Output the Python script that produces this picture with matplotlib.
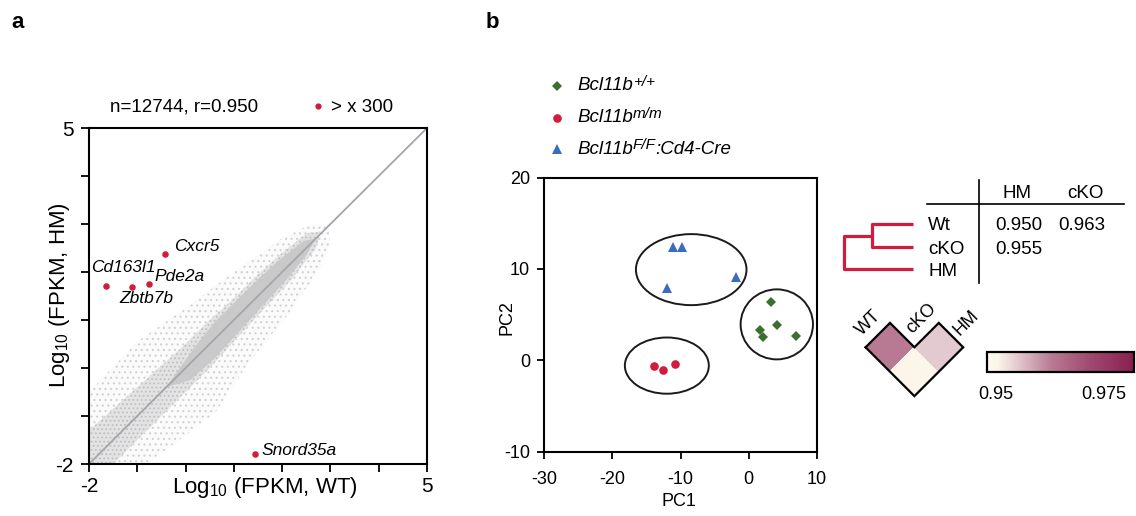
import numpy as np
import matplotlib
matplotlib.use("Agg")
import matplotlib.pyplot as plt
from matplotlib.patches import Ellipse
from matplotlib.transforms import Affine2D
from matplotlib.colors import LinearSegmentedColormap, Normalize
from matplotlib.cm import ScalarMappable

plt.rcParams['font.family'] = ['Liberation Sans', 'DejaVu Sans']
plt.rcParams['mathtext.fontset'] = 'custom'
plt.rcParams['mathtext.rm'] = 'Liberation Sans'
plt.rcParams['mathtext.it'] = 'Liberation Sans:italic'
plt.rcParams['mathtext.bf'] = 'Liberation Sans:bold'
plt.rcParams['axes.unicode_minus'] = False
plt.rcParams['hatch.linewidth'] = 0.8

# ---------------- panel a : scatter cloud (envelopes) ----
# outer, sparse envelope
cloud_outer_x = [-2, -1, 0, 1, 2, 2.6, 2.95, 3.0, 2.8, 2.15, 1.3, 0.6, -0.8, -2]
cloud_outer_y = [-0.5, 0.55, 1.25, 2.0, 2.7, 3.0, 3.0, 2.6, 2.1, 1.15, 0.1, -0.95, -2.0, -2]
# medium density band
cloud_mid_x = [-2, -1, 0, 0.5, 1, 1.5, 2, 2.5, 2.8, 2.7, 2.2, 1.5, 1, 0.5, 0, -1, -1.5, -2]
cloud_mid_y = [-1.3, -0.4, 0.5, 1.0, 1.45, 1.95, 2.4, 2.8, 2.85, 2.5, 1.85, 1.1, 0.55, 0.0, -0.5,
               -1.5, -2.0, -2]
# dense core
cloud_core_x = [-0.4, 0.2, 0.6, 1, 1.5, 2, 2.45, 2.7, 2.5, 2.1, 1.6, 1.1, 0.6, 0.1]
cloud_core_y = [-0.4, 0.45, 0.95, 1.35, 1.85, 2.3, 2.65, 2.7, 2.35, 1.85, 1.3, 0.75, 0.2, -0.25]

# genes with > x 300 difference
genes = ['Cxcr5', 'Cd163l1', 'Pde2a', 'Zbtb7b', 'Snord35a']
gene_wt = [-0.43, -1.65, -0.76, -1.10, 1.44]
gene_hm = [2.37, 1.71, 1.75, 1.69, -1.80]
gene_label_pos = [(-0.24, 2.54), (-1.96, 2.10), (-0.65, 1.90), (-1.38, 1.44), (1.58, -1.71)]

# ---------------- panel b : PCA ----------------
wt_pc1 = [3.23, 4.20, 1.63, 2.10, 6.90]
wt_pc2 = [6.34, 3.81, 3.30, 2.50, 2.67]
mm_pc1 = [-13.9, -12.5, -10.8]
mm_pc2 = [-0.58, -1.10, -0.44]
ko_pc1 = [-11.16, -9.84, -12.04, -1.93]
ko_pc2 = [12.38, 12.38, 7.95, 9.15]
# ellipses: centre x, centre y, width, height
ell_wt = (4.11, 3.93, 10.6, 7.66)
ell_mm = (-12.0, -0.58, 12.3, 6.15)
ell_ko = (-8.43, 9.92, 16.2, 7.77)

# correlation table / heatmap
samples = ['Wt', 'cKO', 'HM']
r_wt_hm = 0.950
r_wt_cko = 0.963
r_cko_hm = 0.955
cb_min, cb_max = 0.948, 0.982

red = '#d11d3b'
green = '#3b6f2e'
blue = '#3a6cc0'

W, H = 1136, 516
fig = plt.figure(figsize=(W / 100, H / 100), dpi=100)


def px_axes(l, t, r, b):
    return fig.add_axes([l / W, 1 - b / H, (r - l) / W, (b - t) / H])


# ---------------- panel a ----------------
ax1 = px_axes(89, 128, 427, 464)
ax1.set_xlim(-2, 5)
ax1.set_ylim(-2, 5)
ax1.fill(cloud_outer_x, cloud_outer_y, facecolor='#fbfbfb', edgecolor='#d2d2d2',
         hatch='...', lw=0, zorder=1)
ax1.fill(cloud_mid_x, cloud_mid_y, facecolor='#e3e3e3', edgecolor='#bfbfbf',
         hatch='....', lw=0, zorder=1.1)
ax1.fill(cloud_core_x, cloud_core_y, facecolor='#c9c9c9', lw=0, zorder=1.2)
ax1.plot([-2, 5], [-2, 5], color='#a4a4ae', lw=1.3, zorder=2)
ax1.scatter(gene_wt, gene_hm, s=22, color=red, zorder=3, lw=0)
for g, (lx, ly) in zip(genes, gene_label_pos):
    ax1.text(lx, ly, g, style='italic', fontsize=12.5, ha='left', va='center')
ticks = list(range(-2, 6))
tlabels = ['-2'] + [''] * 6 + ['5']
ax1.set_xticks(ticks)
ax1.set_xticklabels(tlabels)
ax1.set_yticks(ticks)
ax1.set_yticklabels(tlabels)
ax1.tick_params(direction='out', length=6, width=1.3, labelsize=15, pad=3)
ax1.tick_params(axis='y', pad=5)
for s in ax1.spines.values():
    s.set_linewidth(1.5)

# ---------------- panel b ----------------
ax2 = px_axes(544, 177.5, 817, 451.7)
ax2.set_xlim(-30, 10)
ax2.set_ylim(-10, 20)
for (cx, cy, w, h) in [ell_wt, ell_mm, ell_ko]:
    ax2.add_patch(Ellipse((cx, cy), w, h, fill=False, edgecolor='#1a1a1a', lw=1.4))
ax2.plot(wt_pc1, wt_pc2, 'D', color=green, ms=5.2, mew=0, ls='none')
ax2.plot(mm_pc1, mm_pc2, 'o', color=red, ms=6.2, mew=0, ls='none')
ax2.plot(ko_pc1, ko_pc2, '^', color=blue, ms=7, mew=0, ls='none')
ax2.set_xticks([-30, -20, -10, 0, 10])
ax2.set_yticks([-10, 0, 10, 20])
ax2.tick_params(direction='out', length=5, width=1.3, labelsize=13)
ax2.tick_params(axis='x', pad=9)
ax2.tick_params(axis='y', pad=5)
for s in ax2.spines.values():
    s.set_linewidth(1.5)

# ---------------- overlay (text, legend, table, heatmap) ----------------
ov = fig.add_axes([0, 0, 1, 1], zorder=5)
ov.set_xlim(0, W)
ov.set_ylim(H, 0)
ov.axis('off')

ov.text(18, 22, 'a', fontsize=16, fontweight='bold', ha='center', va='center')
ov.text(492, 22, 'b', fontsize=16, fontweight='bold', ha='center', va='center')

ov.text(184, 107, 'n=12744, r=0.950', fontsize=13.5, ha='center', va='center')
ov.plot([318], [106], 'o', color=red, ms=4.5, mew=0)
ov.text(331, 107, '> x 300', fontsize=13.5, ha='left', va='center')
ov.text(265, 487, r'Log$_{10}$ (FPKM, WT)', fontsize=16, ha='center', va='center')
ov.text(59, 295, r'Log$_{10}$ (FPKM, HM)', fontsize=16, ha='center', va='center',
        rotation=90)
ov.text(679, 502, 'PC1', fontsize=13, ha='center', va='center')
ov.text(507, 318, 'PC2', fontsize=13, ha='center', va='center', rotation=90)

# legend of panel b
ov.plot([557], [86], 'D', color=green, ms=5.2, mew=0)
ov.plot([557], [118], 'o', color=red, ms=6.2, mew=0)
ov.plot([557], [149], '^', color=blue, ms=7, mew=0)


def geno_label(y, sup, tail=None):
    t = ov.text(577, y, 'Bcl11b', style='italic', fontsize=13.5, ha='left', va='center')
    s = ov.annotate(sup, xy=(1.0, 0.3), xycoords=t, style='italic', fontsize=11,
                    ha='left', va='bottom')
    if tail:
        ov.annotate(tail, xy=(1.0, 0.0), xycoords=(s, t), style='italic',
                    fontsize=13.5, ha='left', va='bottom')


geno_label(86, '+/+')
geno_label(118, 'm/m')
geno_label(149, 'F/F', ':Cd4-Cre')

# dendrogram
dc = dict(color=red, lw=2.3, solid_capstyle='butt')
ov.plot([912.7, 871.7, 871.7, 912.7], [224, 224, 247.3, 247.3], **dc)
ov.plot([871.7, 844, 844, 912.7], [235.7, 235.7, 269.3, 269.3], **dc)

# table
ov.plot([979, 979], [180, 283], color='black', lw=1.2)
ov.plot([927, 1124], [203.7, 203.7], color='black', lw=1.2)
ov.text(1017, 193, 'HM', fontsize=13.5, ha='center', va='center')
ov.text(1085, 193, 'cKO', fontsize=13.5, ha='center', va='center')
for lab, y in zip(samples, [226, 249.3, 271.7]):
    ov.text(928, y, lab, fontsize=13.5, ha='left', va='center')
ov.text(1019, 226, f'{r_wt_hm:.3f}', fontsize=13.5, ha='center', va='center')
ov.text(1082, 226, f'{r_wt_cko:.3f}', fontsize=13.5, ha='center', va='center')
ov.text(1019, 249.3, f'{r_cko_hm:.3f}', fontsize=13.5, ha='center', va='center')

# rotated triangular heatmap
cmap = LinearSegmentedColormap.from_list(
    'cream_magenta', [(0.0, '#fcf9ea'), (0.07, '#fbf6e9'), (0.2, '#e4cbd1'),
                      (0.44, '#b87a92'), (0.7, '#a04a70'), (1.0, '#8a1f50')])
norm = Normalize(cb_min, cb_max)
M = np.ma.masked_invalid(np.array([[r_wt_cko, r_wt_hm],
                                    [np.nan, r_cko_hm]]))
rot = Affine2D.from_values(24.4, 24.4, 24.4, -24.4, 865.6, 347.3)
ov.pcolormesh(np.arange(3), np.arange(3), M, cmap=cmap, norm=norm,
              transform=rot + ov.transData, edgecolors='none')
ox = [0, 2, 2, 1, 1, 0, 0]
oy = [0, 0, 2, 2, 1, 1, 0]
ov.plot(ox, oy, color='black', lw=1.6, transform=rot + ov.transData,
        solid_joinstyle='miter')
for lab, (x, y) in zip(['WT', 'cKO', 'HM'], [(869, 323), (921.5, 318.5), (966.5, 323)]):
    ov.text(x, y, lab, fontsize=13, rotation=45, rotation_mode='anchor',
            ha='center', va='center')

# colorbar
cax = px_axes(986.7, 352, 1134, 371.7)
cb = fig.colorbar(ScalarMappable(norm=norm, cmap=cmap), cax=cax,
                  orientation='horizontal', ticks=[0.95, 0.975])
cb.set_ticklabels(['0.95', '0.975'])
cb.outline.set_linewidth(1.6)
cax.tick_params(length=0, labelsize=13, pad=10)

fig.savefig('out.png', dpi=100)
